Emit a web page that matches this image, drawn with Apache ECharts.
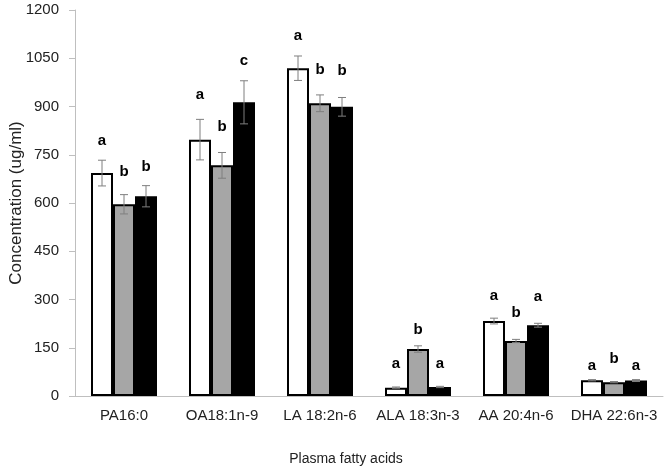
<!DOCTYPE html>
<html>
<head>
<meta charset="utf-8">
<script src="https://cdn.jsdelivr.net/npm/echarts@6/dist/echarts.min.js"></script>
<style>html,body{margin:0;padding:0;background:#fff;}#chart{width:667px;height:469px;}</style>
</head>
<body>
<div id="chart"></div>
<script>
var categories = ['PA16:0', 'OA18:1n-9', 'LA 18:2n-6', 'ALA 18:3n-3', 'AA 20:4n-6', 'DHA 22:6n-3'];
var yTicks = [0, 150, 300, 450, 600, 750, 900, 1050, 1200];

var values1 = [693, 797, 1019, 26, 233, 49];
var values2 = [596, 717, 910, 146, 171, 43];
var values3 = [621, 913, 899, 28, 220, 48];

var errors1 = [40, 63, 38, 2, 9, 2];
var errors2 = [30, 40, 26, 10, 5, 2];
var errors3 = [33, 67, 29, 2, 6, 3];

var letters1 = ['a', 'a', 'a', 'a', 'a', 'a'];
var letters2 = ['b', 'b', 'b', 'b', 'b', 'b'];
var letters3 = ['b', 'c', 'b', 'a', 'a', 'a'];

var letterY1 = [793, 936, 1119, 99, 312, 93];
var letterY2 = [696, 837, 1013, 205, 257, 114];
var letterY3 = [712, 1042, 1010, 99, 309, 93];

var BAR_W = 22;
var chart = echarts.init(document.getElementById('chart'));

function errSeries(values, errors, letters, letterY, offset) {
  var data = values.map(function (v, i) { return [i, v + errors[i], v - errors[i], letterY[i]]; });
  return {
    type: 'custom',
    z: 10,
    silent: true,
    data: data,
    encode: { x: 0, y: [1, 2] },
    renderItem: function (params, api) {
      var i = api.value(0);
      var top = api.coord([i, api.value(1)]);
      var bot = api.coord([i, api.value(2)]);
      var lab = api.coord([i, api.value(3)]);
      var x = top[0] + offset;
      var cap = 4;
      var st = { stroke: '#7f7f7f', lineWidth: 1 };
      return {
        type: 'group',
        children: [
          { type: 'line', shape: { x1: x, y1: top[1], x2: x, y2: bot[1] }, style: st },
          { type: 'line', shape: { x1: x - cap, y1: top[1], x2: x + cap, y2: top[1] }, style: st },
          { type: 'line', shape: { x1: x - cap, y1: bot[1], x2: x + cap, y2: bot[1] }, style: st },
          { type: 'text', x: x, y: lab[1], style: { text: letters[params.dataIndex], fill: '#000', font: 'bold 15px "Liberation Sans", Arial, sans-serif', align: 'center', verticalAlign: 'middle' } }
        ]
      };
    }
  };
}

var option = {
  animation: false,
  backgroundColor: '#fff',
  textStyle: { fontFamily: '"Liberation Sans", Arial, sans-serif' },
  grid: { left: 75, right: 4, top: 10, bottom: 73, containLabel: false, outerBoundsMode: 'none' },
  xAxis: {
    type: 'category',
    data: categories,
    name: 'Plasma fatty acids',
    nameLocation: 'middle',
    nameGap: 56,
    nameMoveOverlap: false,
    nameTextStyle: { fontSize: 14, color: '#222', padding: [0, 46, 0, 0] },
    axisLine: { show: true, lineStyle: { color: '#bfbfbf', width: 1 } },
    axisTick: { show: false },
    axisLabel: { fontSize: 15, color: '#222', margin: 12, interval: 0 }
  },
  yAxis: {
    type: 'value',
    min: yTicks[0],
    max: yTicks[yTicks.length - 1],
    interval: yTicks[1] - yTicks[0],
    name: 'Concentration (ug/ml)',
    nameLocation: 'middle',
    nameGap: 50,
    nameMoveOverlap: false,
    nameTextStyle: { fontSize: 17, color: '#222' },
    axisLine: { show: true, lineStyle: { color: '#bfbfbf', width: 1 } },
    axisTick: { show: true, length: 6, lineStyle: { color: '#bfbfbf' } },
    axisLabel: { fontSize: 15, color: '#222', margin: 16, formatter: function (v) { return String(v); } },
    splitLine: { show: false }
  },
  series: [
    { type: 'bar', data: values1, barWidth: BAR_W, barGap: '0%', itemStyle: { color: '#ffffff', borderColor: '#000', borderWidth: 2 } },
    { type: 'bar', data: values2, barWidth: BAR_W, barGap: '0%', itemStyle: { color: '#a6a6a6', borderColor: '#000', borderWidth: 2 } },
    { type: 'bar', data: values3, barWidth: BAR_W, barGap: '0%', itemStyle: { color: '#000000', borderColor: '#000', borderWidth: 2 } },
    errSeries(values1, errors1, letters1, letterY1, -BAR_W),
    errSeries(values2, errors2, letters2, letterY2, 0),
    errSeries(values3, errors3, letters3, letterY3, BAR_W)
  ]
};
chart.setOption(option);
</script>
</body>
</html>
